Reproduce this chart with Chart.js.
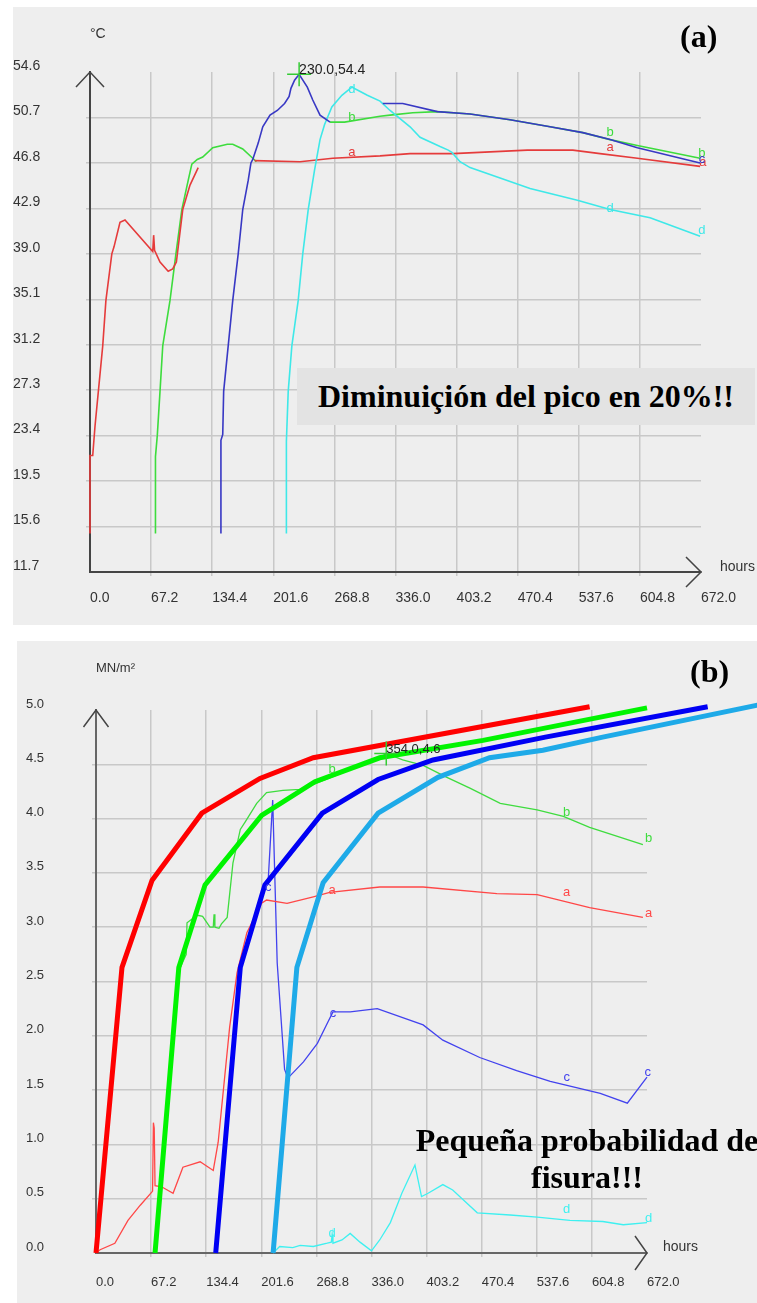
<!DOCTYPE html>
<html>
<head>
<meta charset="utf-8">
<script src="https://cdn.jsdelivr.net/npm/chart.js@4.4.1/dist/chart.umd.min.js"></script>
<style>
  html, body { margin: 0; padding: 0; background: #fff; }
  body { position: relative; width: 757px; height: 1303px; overflow: hidden; font-family: "Liberation Sans", Arial, sans-serif; }
  .panel { position: absolute; background: #eeeeee; }
  .panel canvas { position: absolute; left: 0; top: 0; }
  .lbl { position: absolute; font-size: 14px; line-height: 16px; color: #333; white-space: nowrap; }
  .big { position: absolute; font-family: "Liberation Serif", "Times New Roman", serif; font-weight: bold; font-size: 32px; line-height: 32px; color: #000; white-space: nowrap; }
</style>
</head>
<body>
<div class="panel" style="left:13px;top:7px;width:744px;height:618px;">
  <canvas id="chartA" width="744" height="618"></canvas>
</div>
<div class="panel" style="left:17px;top:641px;width:740px;height:662px;">
  <canvas id="chartB" width="740" height="662"></canvas>
</div>

<div class="lbl" style="left:90px;top:25px;">°C</div>
<div class="lbl" style="left:720px;top:558px;">hours</div>
<div class="big" style="left:680px;top:20px;">(a)</div>
<div class="big" style="left:297px;top:368px;width:437px;height:57px;line-height:57px;padding-left:21px;background:#e3e3e3;">Diminuiçión del pico en 20%!!</div>

<div class="lbl" style="left:96px;top:660px;font-size:13px;">MN/m²</div>
<div class="lbl" style="left:663px;top:1238px;">hours</div>
<div class="big" style="left:690px;top:655px;">(b)</div>
<div class="big" style="left:387px;top:1122px;width:400px;text-align:center;line-height:37px;">Pequeña probabilidad de<br>fisura!!!</div>

<script>
// Ejes
const hourTicks = [0, 67.2, 134.4, 201.6, 268.8, 336.0, 403.2, 470.4, 537.6, 604.8, 672.0];
const tempTicks = [11.7, 15.6, 19.5, 23.4, 27.3, 31.2, 35.1, 39.0, 42.9, 46.8, 50.7, 54.6];
const stressTicks = [0.0, 0.5, 1.0, 1.5, 2.0, 2.5, 3.0, 3.5, 4.0, 4.5, 5.0];

// (a) temperatura por capa [hora, °C]
const tempA = [[0,15.0],[0,21.7],[3,21.7],[5.5,24.2],[14,31.1],[17.5,35.0],[24,39.0],[26.4,39.6],[33,41.7],[38.5,41.9],
  [69,39.2],[70,40.6],[71,39.3],[77,38.3],[86,37.5],[91,37.7],[95,38.3],[102,42.8],[110,44.9],[119,46.4],[150,null],
  [181,47.0],[231,46.9],[267,47.2],[319,47.4],[352,47.6],[399,47.6],[481,47.9],[531,47.9],[561,47.6],[602,47.2],[671,46.5]];
const tempB = [[72,15.0],[72,21.6],[74,23.4],[77,27.2],[80,31.1],[88,35.0],[94.5,39.0],[101,42.8],[108,45.3],[112,46.7],
  [118,47.1],[124,47.3],[135,48.1],[151,48.4],[157,48.4],[168,48.0],[179,47.2],[183,46.9],[220,null],
  [264,50.3],[280,50.3],[319,50.8],[330,50.9],[355,51.1],[382,51.2],[418,51.0],[462,50.5],[506,49.9],[542,49.4],
  [572,48.8],[602,48.3],[671,47.2]];
const tempC = [[144,15.0],[144,23.0],[146,23.5],[147,27.2],[152,31.1],[157,35.0],[163,39.0],[168,42.8],[174,45.3],
  [177,46.8],[179,47.1],[185,48.5],[190,49.9],[198,50.9],[206,51.3],[214,51.9],[219,52.5],[221,53.2],[225,53.9],
  [230,54.4],[239,53.3],[245,52.2],[253,50.9],[264,50.3],[290,null],[322,51.9],[344,51.9],[382,51.2],[418,51.0],
  [462,50.5],[506,49.9],[542,49.4],[572,48.8],[602,48.1],[671,46.8]];
const tempD = [[216,15.0],[216,22.9],[218,27.2],[222,31.1],[229,35.0],[234,39.0],[240,42.8],[247,46.2],[253,48.8],
  [258,50.1],[266,51.6],[277,52.6],[288,53.3],[293,53.1],[305,52.6],[319,52.1],[330,51.3],[352,49.9],[363,49.0],
  [385,48.2],[394,47.9],[398,47.7],[407,46.9],[418,46.4],[451,45.5],[484,44.6],[536,43.6],[572,42.8],[616,42.1],[671,40.5]];
const peakA = [230.0, 54.4];

// (b) tensiones [hora, MN/m²]
const stressA = [[0,0],[5,0.03],[23,0.09],[39,0.30],[54,0.44],[68,0.56],[69,0.57],[70,1.20],[71,1.15],[72,0.62],
  [80,0.61],[94,0.55],[106,0.79],[127,0.84],[143,0.76],[149,1.02],[163,2.08],[172,2.58],[184,2.95],[202,3.22],
  [208,3.25],[233,3.22],[265,3.28],[285,3.32],[346,3.37],[399,3.37],[489,3.31],[538,3.30],[602,3.18],[667,3.09]];
const stressB = [[72,0],[101,2.6],[110,2.75],[111,3.04],[118,3.08],[124,3.11],[130,3.10],[139,3.00],[143,3.00],
  [144,3.12],[145,3.00],[150,2.99],[153,3.03],[160,3.09],[167,3.59],[176,3.90],[182,3.97],[196,4.14],[208,4.24],
  [228,4.26],[249,4.27],[267,4.32],[346,4.56],[354,4.60],[374,4.54],[399,4.49],[428,4.38],[456,4.28],[493,4.14],
  [538,4.08],[570,4.02],[602,3.92],[667,3.76]];
const stressC = [[146,0],[176,2.63],[206,3.39],[210,3.43],[215.5,4.17],[221,2.67],[230,1.69],[234,1.61],[253,1.76],
  [270,1.93],[283,2.13],[289,2.22],[310,2.22],[343,2.25],[399,2.10],[423,1.96],[468,1.80],[513,1.68],[554,1.58],
  [615,1.47],[648,1.38],[672,1.62]];
const stressD = [[216,0],[224,0.06],[240,0.05],[249,0.07],[265,0.06],[282,0.09],[287,0.10],[288,0.17],[289,0.09],
  [300,0.12],[310,0.18],[322,0.10],[336,0.02],[346,0.12],[359,0.28],[373,0.55],[389,0.81],[397,0.52],[405,0.55],
  [423,0.63],[435,0.58],[465,0.37],[505,0.35],[538,0.33],[578,0.30],[618,0.29],[643,0.26],[672,0.28]];
// resistencia a tracción (líneas gruesas)
const strengthA = [[0,0],[31.7,2.63],[68.3,3.43],[129,4.05],[200,4.37],[265,4.56],[602,5.03]];
const strengthB = [[72,0],[101,2.63],[133,3.39],[202,4.03],[267,4.34],[346,4.56],[472,4.72],[672,5.02]];
const strengthC = [[146,0],[176,2.63],[206,3.39],[276,4.05],[344,4.36],[411,4.54],[548,4.75],[746,5.03]];
const strengthD = [[216,0],[245,2.63],[277,3.41],[344,4.05],[417,4.38],[480,4.56],[545,4.63],[618,4.75],[810,5.05]];
const peakB = [354.0, 4.6];

// etiquetas de serie [letra, hora, valor]
const tagsA = [["a",288,47.7],["a",572,48.1],["a",674,46.8],["b",288,50.7],["b",572,49.4],["b",673,47.6],
  ["c",673,47.1],["d",288,53.1],["d",572,42.9],["d",673,41.0]];
const tagsB = [["a",288,3.34],["a",574,3.32],["a",674,3.13],["b",288,4.45],["b",574,4.06],["b",674,3.82],
  ["c",210,3.37],["c",289,2.21],["c",574,1.62],["c",673,1.66],["d",288,0.18],["d",574,0.40],["d",674,0.32]];

const colorsA = { a: "#e53b3b", b: "#3ddc3d", c: "#3838c4", d: "#3ee8e8" };
const colorsB = { a: "#ff4747", b: "#3fdc3f", c: "#4242ee", d: "#3ef0f0" };

function series(points, color, width) {
    return {
        data: points.map(([x, y]) => ({ x, y })),
        borderColor: color,
        borderWidth: width,
        pointRadius: 0,
        tension: 0,
        fill: false,
        clip: false
    };
}

//Flechas en los extremos de los ejes.
function arrows(yw, yh, xd, xw) {
    return {
        id: "arrows",
        afterDraw(chart) {
            const { ctx, chartArea: a } = chart;
            ctx.save();
            ctx.strokeStyle = "#444";
            ctx.lineWidth = 1.5;
            ctx.beginPath();
            ctx.moveTo(a.left - yw, a.top + yh);
            ctx.lineTo(a.left, a.top);
            ctx.lineTo(a.left + yw, a.top + yh);
            ctx.moveTo(a.right - xd, a.bottom - xw);
            ctx.lineTo(a.right, a.bottom);
            ctx.lineTo(a.right - xd, a.bottom + xw);
            ctx.stroke();
            ctx.restore();
        }
    };
}

//Letras de serie y cruz del máximo.
function markers(tags, colors, peak, peakFont) {
    return {
        id: "markers",
        afterDatasetsDraw(chart) {
            const { ctx, scales: { x, y } } = chart;
            ctx.save();
            ctx.font = "13px 'Liberation Sans'";
            ctx.textAlign = "center";
            ctx.textBaseline = "middle";
            tags.forEach(([t, h, v]) => {
                ctx.fillStyle = colors[t];
                ctx.fillText(t, x.getPixelForValue(h), y.getPixelForValue(v));
            });
            const px = x.getPixelForValue(peak[0]);
            const py = y.getPixelForValue(peak[1]);
            ctx.strokeStyle = "#33cc33";
            ctx.lineWidth = 1.5;
            ctx.beginPath();
            ctx.moveTo(px - 12, py); ctx.lineTo(px + 12, py);
            ctx.moveTo(px, py - 12); ctx.lineTo(px, py + 12);
            ctx.stroke();
            ctx.fillStyle = "#222";
            ctx.textAlign = "left";
            ctx.textBaseline = "alphabetic";
            ctx.font = peakFont;
            ctx.fillText(peak[0].toFixed(1) + "," + peak[1].toFixed(1), px, py);
            ctx.restore();
        }
    };
}

function axes(yTicks, yWidth, xHeight, fontSize, xPad, borderColor) {
    const gridColor = (min, max) => c =>
        (c.tick && (c.tick.value === min || c.tick.value === max)) ? "rgba(0,0,0,0)" : "#c8c8c8";
    const yMin = yTicks[0], yMax = yTicks[yTicks.length - 1];
    return {
        x: {
            type: "linear",
            min: 0,
            max: 672,
            afterBuildTicks: s => { s.ticks = hourTicks.map(v => ({ value: v })); },
            afterFit: s => { s.height = xHeight; },
            ticks: {
                autoSkip: false, maxRotation: 0, align: "start", padding: xPad,
                color: "#333", font: { family: "Liberation Sans", size: fontSize },
                callback: v => v.toFixed(1)
            },
            grid: { color: gridColor(0, 672), lineWidth: 1.5, tickLength: 4 },
            border: { color: borderColor, width: 2 }
        },
        y: {
            type: "linear",
            min: yMin,
            max: yMax,
            afterBuildTicks: s => { s.ticks = yTicks.map(v => ({ value: v })); },
            afterFit: s => { s.width = yWidth; },
            ticks: {
                autoSkip: false, crossAlign: "far", labelOffset: -6,
                color: "#333", font: { family: "Liberation Sans", size: fontSize },
                callback: v => v.toFixed(1)
            },
            grid: { color: gridColor(yMin, yMax), lineWidth: 1.5, tickLength: 4 },
            border: { color: borderColor, width: 2 }
        }
    };
}

const baseOptions = {
    responsive: false,
    animation: false,
    events: [],
    plugins: { legend: { display: false }, tooltip: { enabled: false } }
};

new Chart(document.getElementById("chartA"), {
    type: "line",
    data: {
        datasets: [
            series(tempC, colorsA.c, 1.6),
            series(tempD, colorsA.d, 1.6),
            series(tempA, colorsA.a, 1.6),
            series(tempB, colorsA.b, 1.6)
        ]
    },
    options: Object.assign({}, baseOptions, {
        layout: { padding: { left: 0, top: 65, right: 56, bottom: 0 } },
        scales: axes(tempTicks, 77, 53, 14, 14, "#444")
    }),
    plugins: [arrows(14, 15, 15, 15), markers(tagsA, colorsA, peakA, "14px 'Liberation Sans'")]
});

new Chart(document.getElementById("chartB"), {
    type: "line",
    data: {
        datasets: [
            series(strengthA, "#ff0000", 5),
            series(strengthB, "#00f400", 5),
            series(strengthC, "#0000f4", 5),
            series(strengthD, "#1eaae8", 5),
            series(stressA, colorsB.a, 1.3),
            series(stressB, colorsB.b, 1.3),
            series(stressC, colorsB.c, 1.3),
            series(stressD, colorsB.d, 1.3)
        ]
    },
    options: Object.assign({}, baseOptions, {
        layout: { padding: { left: 9, top: 69, right: 110, bottom: 0 } },
        scales: axes(stressTicks, 70, 50, 13, 18, "#666")
    }),
    plugins: [arrows(12.5, 17, 12, 17), markers(tagsB, colorsB, peakB, "13px 'Liberation Sans'")]
});
</script>
</body>
</html>
